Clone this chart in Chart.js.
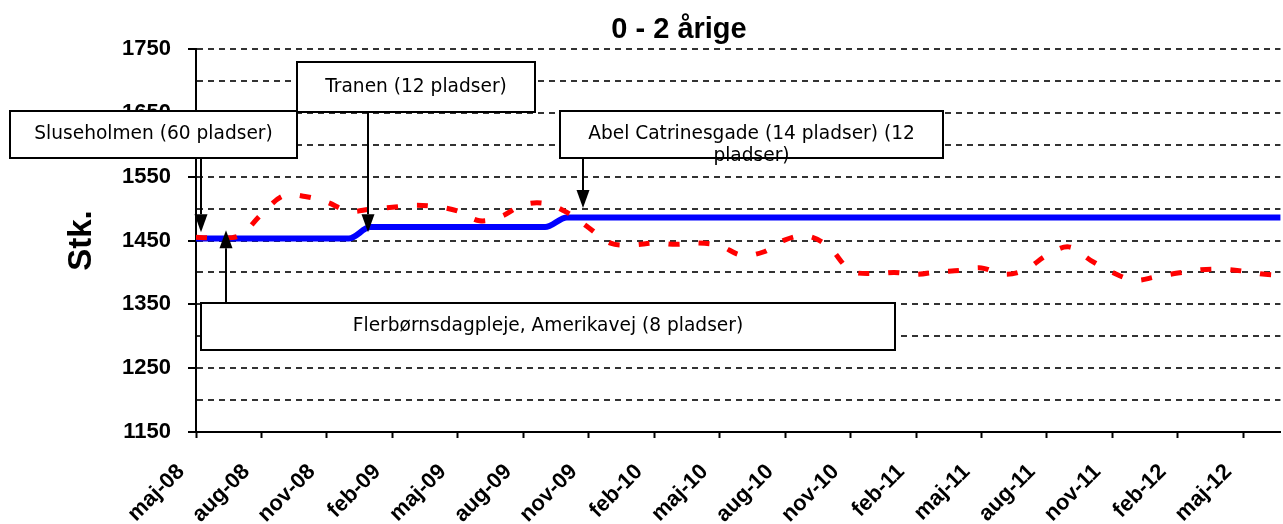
<!DOCTYPE html>
<html>
<head>
<meta charset="utf-8">
<script src="https://cdn.jsdelivr.net/npm/chart.js@4.4.1/dist/chart.umd.min.js"></script>
<style>
  html, body { margin: 0; padding: 0; background: #fff; overflow: hidden; }
  #wrap { width: 1283px; height: 524px; position: relative; }
</style>
</head>
<body>
<div id="wrap"><canvas id="chart"></canvas></div>
<script>
// Month labels, index 0 = maj-08
const monthLabels = [
    'maj-08', 'jun-08', 'jul-08', 'aug-08', 'sep-08', 'okt-08', 'nov-08', 'dec-08',
    'jan-09', 'feb-09', 'mar-09', 'apr-09', 'maj-09', 'jun-09', 'jul-09', 'aug-09',
    'sep-09', 'okt-09', 'nov-09', 'dec-09', 'jan-10', 'feb-10', 'mar-10', 'apr-10',
    'maj-10', 'jun-10', 'jul-10', 'aug-10', 'sep-10', 'okt-10', 'nov-10', 'dec-10',
    'jan-11', 'feb-11', 'mar-11', 'apr-11', 'maj-11', 'jun-11', 'jul-11', 'aug-11',
    'sep-11', 'okt-11', 'nov-11', 'dec-11', 'jan-12', 'feb-12', 'mar-12', 'apr-12',
    'maj-12', 'jun-12', 'jul-12'
];
const tickMonths = [0, 3, 6, 9, 12, 15, 18, 21, 24, 27, 30, 33, 36, 39, 42, 45, 48];

// y axis: gridlines every 50, labels every 100
const yGridValues = [1150, 1200, 1250, 1300, 1350, 1400, 1450, 1500, 1550, 1600, 1650, 1700, 1750];
const yLabelValues = [1150, 1250, 1350, 1450, 1550, 1650, 1750];

// Number of children (red dashed)
const children = [
    1455, 1454, 1458, 1491, 1520, 1519, 1510, 1496, 1499, 1502,
    1505, 1503, 1496, 1481, 1488, 1506, 1508, 1494, 1470, 1446,
    1443, 1446, 1444, 1446, 1442, 1427, 1432, 1451, 1457, 1440,
    1403, 1398, 1400, 1397, 1401, 1403, 1407, 1397, 1404, 1427,
    1440, 1419, 1400, 1388, 1393, 1399, 1404, 1405, 1402, 1397,
    1395
];

// Places (blue)
const places = [
    1453, 1453, 1453, 1453, 1453, 1453, 1453, 1453, 1471, 1471,
    1471, 1471, 1471, 1471, 1471, 1471, 1471, 1486, 1486, 1486,
    1486, 1486, 1486, 1486, 1486, 1486, 1486, 1486, 1486, 1486,
    1486, 1486, 1486, 1486, 1486, 1486, 1486, 1486, 1486, 1486,
    1486, 1486, 1486, 1486, 1486, 1486, 1486, 1486, 1486, 1486,
    1486
];

const chartTitle = '0 - 2 årige';
const yTitle = 'Stk.';

// Callouts: text, arrow tip (month, value), box in px
const callouts = [
    { lines: ['Sluseholmen (60 pladser)'], tipMonth: 0.23, tipValue: 1463, box: [10, 111, 297, 158], dir: 'down' },
    { lines: ['Tranen (12 pladser)'], tipMonth: 7.86, tipValue: 1463, box: [297, 62, 535, 112], dir: 'down' },
    { lines: ['Abel Catrinesgade (14 pladser) (12', 'pladser)'], tipMonth: 17.74, tipValue: 1501, box: [560, 111, 943, 158], dir: 'down' },
    { lines: ['Flerbørnsdagpleje, Amerikavej (8 pladser)'], tipMonth: 1.37, tipValue: 1466, box: [201, 303, 895, 350], dir: 'up' }
];

const axisFont = '"Liberation Sans", Arial, sans-serif';
const toPoints = arr => arr.map((v, i) => ({ x: i, y: v }));

function drawArrow(ctx, x, yFrom, yTip) {
    const dir = yTip > yFrom ? 1 : -1;
    const headLen = 18, headHalf = 6.5;
    ctx.beginPath();
    ctx.moveTo(x, yFrom);
    ctx.lineTo(x, yTip - dir * headLen);
    ctx.stroke();
    ctx.beginPath();
    ctx.moveTo(x, yTip);
    ctx.lineTo(x - headHalf, yTip - dir * headLen);
    ctx.lineTo(x + headHalf, yTip - dir * headLen);
    ctx.closePath();
    ctx.fill();
}

const overlayPlugin = {
    id: 'overlay',
    afterDraw(chart) {
        const ctx = chart.ctx;
        const xs = chart.scales.x, ys = chart.scales.y;
        ctx.save();
        // title
        ctx.fillStyle = '#000';
        ctx.font = 'bold 29px ' + axisFont;
        ctx.textAlign = 'center';
        ctx.textBaseline = 'alphabetic';
        ctx.fillText(chartTitle, 679, 38);

        // callouts
        ctx.lineWidth = 2;
        ctx.strokeStyle = '#000';
        callouts.forEach(c => {
            const tx = Math.round(xs.getPixelForValue(c.tipMonth));
            const ty = ys.getPixelForValue(c.tipValue);
            const [l, t, r, b] = c.box;
            ctx.fillStyle = '#000';
            drawArrow(ctx, tx, c.dir === 'down' ? b : t, ty);
            ctx.fillStyle = '#fff';
            ctx.fillRect(l, t, r - l, b - t);
            ctx.strokeRect(l, t, r - l, b - t);
            ctx.fillStyle = '#000';
            ctx.font = '18.6px "DejaVu Sans", Verdana, sans-serif';
            ctx.textAlign = 'center';
            ctx.textBaseline = 'middle';
            const cx = (l + r) / 2, cy = (t + b) / 2;
            c.lines.forEach((line, i) => ctx.fillText(line, cx, cy + i * 22));
        });
        ctx.restore();
    }
};

new Chart(document.getElementById('chart'), {
    type: 'line',
    data: {
        datasets: [
            {
                label: 'Børn',
                data: toPoints(children),
                borderColor: '#ff0000',
                borderWidth: 5,
                borderDash: [11, 19],
                borderCapStyle: 'butt',
                tension: 0.35,
                pointRadius: 0,
                order: 0
            },
            {
                label: 'Pladser',
                data: toPoints(places),
                borderColor: '#0000ff',
                borderWidth: 6,
                cubicInterpolationMode: 'monotone',
                pointRadius: 0,
                order: 1
            }
        ]
    },
    options: {
        responsive: true,
        maintainAspectRatio: false,
        animation: false,
        layout: { padding: { top: 49, left: 0, right: 0, bottom: 0 } },
        plugins: {
            legend: { display: false },
            tooltip: { enabled: false },
            title: { display: false }
        },
        scales: {
            x: {
                type: 'linear',
                min: 0,
                max: 49.7,
                afterBuildTicks: scale => { scale.ticks = tickMonths.map(v => ({ value: v })); },
                afterFit: scale => { scale.height = 92; },
                ticks: {
                    autoSkip: false,
                    maxRotation: 45,
                    minRotation: 45,
                    padding: 21,
                    labelOffset: -15,
                    color: '#000',
                    font: { family: axisFont, size: 22, weight: 'bold' },
                    callback: v => monthLabels[v] || ''
                },
                grid: {
                    drawOnChartArea: false,
                    drawTicks: true,
                    tickLength: 6,
                    tickColor: '#000',
                    tickWidth: 2
                },
                border: { display: true, color: '#000', width: 2 }
            },
            y: {
                type: 'linear',
                min: 1150,
                max: 1750,
                afterBuildTicks: scale => { scale.ticks = yGridValues.map(v => ({ value: v })); },
                afterFit: scale => { scale.width = 196; },
                ticks: {
                    autoSkip: false,
                    padding: 17,
                    color: '#000',
                    font: { family: axisFont, size: 22, weight: 'bold' },
                    callback: v => yLabelValues.includes(v) ? String(v) : ''
                },
                title: {
                    display: true,
                    text: yTitle,
                    color: '#000',
                    font: { family: axisFont, size: 33, weight: 'bold' },
                    padding: { top: 62, bottom: 0 }
                },
                grid: {
                    color: ctx => ctx.tick && ctx.tick.value === 1150 ? 'rgba(0,0,0,0)' : '#333',
                    lineWidth: 2,
                    drawTicks: true,
                    tickLength: 8,
                    tickWidth: 2,
                    tickColor: ctx => ctx.tick && yLabelValues.includes(ctx.tick.value) ? '#000' : 'rgba(0,0,0,0)'
                },
                border: { display: true, color: '#000', width: 2, dash: [6, 5] }
            }
        }
    },
    plugins: [overlayPlugin]
});
</script>
</body>
</html>
